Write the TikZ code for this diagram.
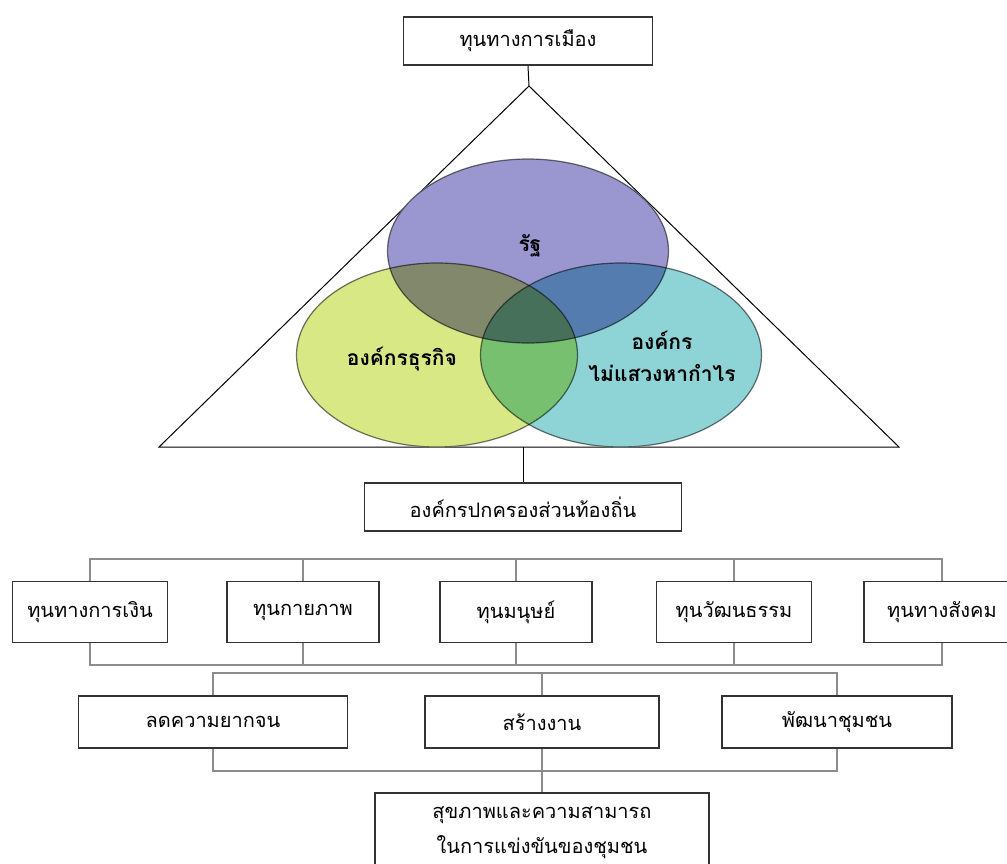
\documentclass[tikz,border=0pt]{standalone}
\usepackage{fontspec}
\newfontfamily\thaifont[Script=Thai]{Loma}
\usetikzlibrary{shapes.geometric}
\definecolor{rPurple}{RGB}{154,150,208}
\definecolor{rGreen}{RGB}{208,228,112}
\definecolor{rTeal}{RGB}{122,204,208}

\begin{document}
\begin{tikzpicture}[x=1pt, y=-1pt, font=\thaifont\fontsize{20}{24}\selectfont,
      box/.style={draw=black!80, line width=1.8pt, fill=white, inner sep=0pt},
      bus/.style={draw=black!45, line width=2.4pt},
      ring/.style={ellipse, draw=black!55, line width=1.2pt,
        minimum width=281pt, minimum height=184pt, inner sep=0pt},
      label/.style={font=\thaifont\bfseries\fontsize{21}{32}\selectfont, align=center}]
    \useasboundingbox (0,0) rectangle (1007,863);
    \node (pol) [box, minimum width=249pt, minimum height=48pt] at (528,41) {ทุนทางการเมือง};
    \coordinate (apex) at (529,86);
    \coordinate (bl) at (159,447);
    \coordinate (br) at (899,447);
    \draw[line width=1pt] (apex) -- (bl) -- (br) -- cycle;
    \draw[line width=1pt] (pol.south) -- (apex);
    \begin{scope}[blend group=multiply]
      \node (state) [ring, fill=rPurple] at (528,251) {};
      \node (npo) [ring, fill=rTeal, fill opacity=0.85] at (621,355) {};
      \node (biz) [ring, fill=rGreen, fill opacity=0.85] at (437,355) {};
    \end{scope}
    \node (stateL) [label] at (530,246) {รัฐ};
    \node (bizL) [label] at (402,359) {องค์กรธุรกิจ};
    \node (npoL) [label] at (662,356) {องค์กร\\ไม่แสวงหากำไร};
    \node (local) [box, minimum width=317pt, minimum height=48pt] at (523,507) {องค์กรปกครองส่วนท้องถิ่น};
    \draw[line width=1pt] (local.north |- br) -- (local.north);
    \node (cap1) [box, minimum width=155pt, minimum height=61pt] at (90,612) {ทุนทางการเงิน};
    \node (cap2) [box, minimum width=152pt, minimum height=61pt] at (303,612) {ทุนกายภาพ};
    \node (cap3) [box, minimum width=152pt, minimum height=61pt] at (516,612) {ทุนมนุษย์};
    \node (cap4) [box, minimum width=155pt, minimum height=61pt] at (734,612) {ทุนวัฒนธรรม};
    \node (cap5) [box, minimum width=156pt, minimum height=61pt] at (942,612) {ทุนทางสังคม};
    \coordinate (busA) at (0,559);
    \coordinate (busB) at (0,665);
    \draw[bus] (cap1.north) |- (cap5.north |- busA) -- (cap5.north);
    \draw[bus] (cap1.south) |- (cap5.south |- busB) -- (cap5.south);
    \foreach \n in {2,3,4} {
      \draw[bus] (cap\n.north) -- (cap\n.north |- busA);
      \draw[bus] (cap\n.south) -- (cap\n.south |- busB);
    }
    \node (poor) [box, minimum width=269pt, minimum height=52pt] at (213,722) {ลดความยากจน};
    \node (jobs) [box, minimum width=234pt, minimum height=52pt] at (542,722) {สร้างงาน};
    \node (comm) [box, minimum width=230pt, minimum height=52pt] at (837,722) {พัฒนาชุมชน};
    \coordinate (busC) at (0,673);
    \coordinate (busD) at (0,771);
    \draw[bus] (poor.north) |- (comm.north |- busC) -- (comm.north);
    \draw[bus] (jobs.north) -- (jobs.north |- busC);
    \draw[bus] (poor.south) |- (comm.south |- busD) -- (comm.south);
    \node (health) [box, minimum width=334pt, minimum height=80pt, align=center,
      font=\thaifont\fontsize{20}{35}\selectfont] at (542,833)
      {สุขภาพและความสามารถ\\ในการแข่งขันของชุมชน};
    \draw[bus] (jobs.south) -- (health.north);
\end{tikzpicture}
\end{document}
